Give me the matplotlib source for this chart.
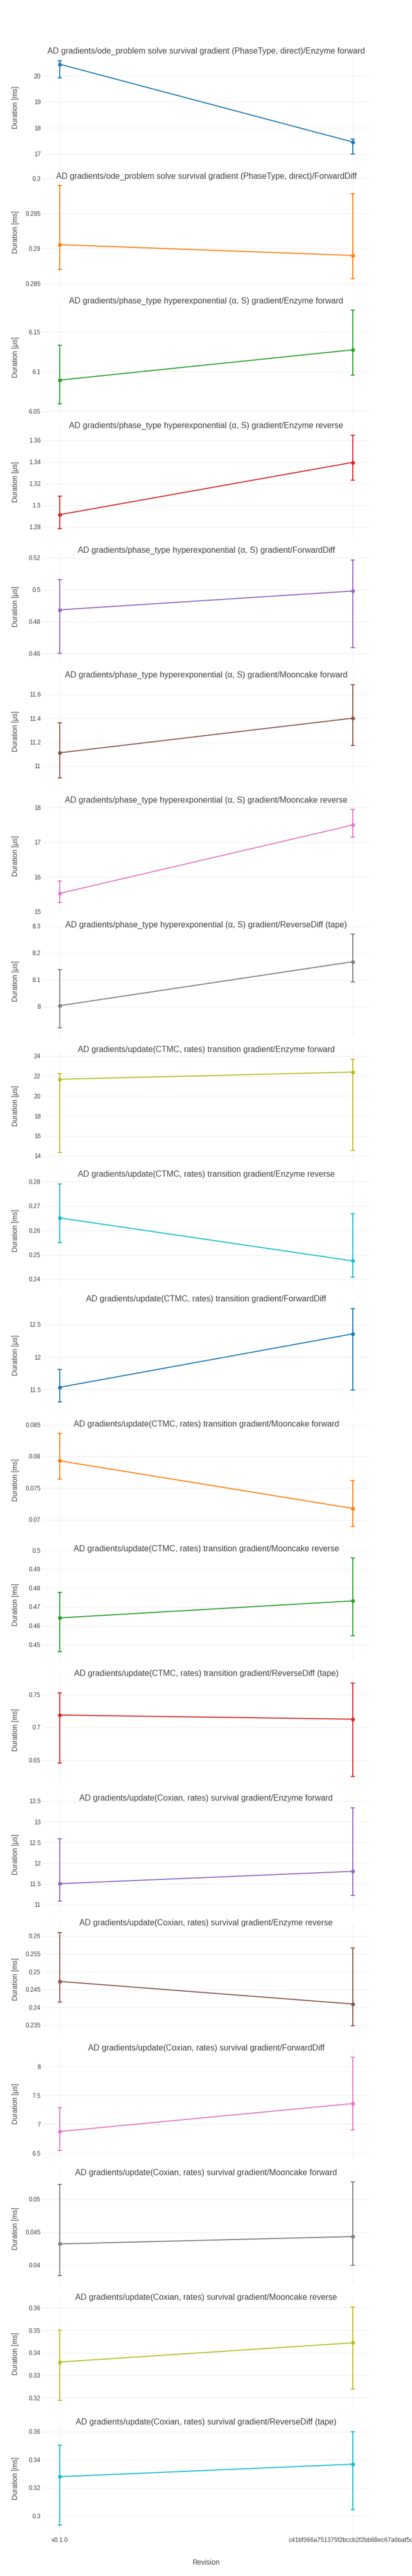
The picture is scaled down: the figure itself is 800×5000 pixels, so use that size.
import matplotlib
matplotlib.use("Agg")
import matplotlib.pyplot as plt

plt.rcParams['font.family'] = ['Liberation Sans', 'DejaVu Sans']

revisions = ["v0.1.0", "c41bf366a751375f2bccb2f2bb68ec67a6baf5c0"]

titles = [
    "AD gradients/ode_problem solve survival gradient (PhaseType, direct)/Enzyme forward",
    "AD gradients/ode_problem solve survival gradient (PhaseType, direct)/ForwardDiff",
    "AD gradients/phase_type hyperexponential (α, S) gradient/Enzyme forward",
    "AD gradients/phase_type hyperexponential (α, S) gradient/Enzyme reverse",
    "AD gradients/phase_type hyperexponential (α, S) gradient/ForwardDiff",
    "AD gradients/phase_type hyperexponential (α, S) gradient/Mooncake forward",
    "AD gradients/phase_type hyperexponential (α, S) gradient/Mooncake reverse",
    "AD gradients/phase_type hyperexponential (α, S) gradient/ReverseDiff (tape)",
    "AD gradients/update(CTMC, rates) transition gradient/Enzyme forward",
    "AD gradients/update(CTMC, rates) transition gradient/Enzyme reverse",
    "AD gradients/update(CTMC, rates) transition gradient/ForwardDiff",
    "AD gradients/update(CTMC, rates) transition gradient/Mooncake forward",
    "AD gradients/update(CTMC, rates) transition gradient/Mooncake reverse",
    "AD gradients/update(CTMC, rates) transition gradient/ReverseDiff (tape)",
    "AD gradients/update(Coxian, rates) survival gradient/Enzyme forward",
    "AD gradients/update(Coxian, rates) survival gradient/Enzyme reverse",
    "AD gradients/update(Coxian, rates) survival gradient/ForwardDiff",
    "AD gradients/update(Coxian, rates) survival gradient/Mooncake forward",
    "AD gradients/update(Coxian, rates) survival gradient/Mooncake reverse",
    "AD gradients/update(Coxian, rates) survival gradient/ReverseDiff (tape)",
]

units = ["ms", "ms", "μs", "μs", "μs", "μs", "μs", "μs", "μs", "ms",
         "μs", "ms", "ms", "ms", "μs", "ms", "μs", "ms", "ms", "ms"]

# [v0.1.0, head] per benchmark
means = [
    [20.447, 17.461], [0.29056, 0.28902], [6.0894, 6.1275], [1.2913, 1.3396],
    [0.48747, 0.49925], [11.111, 11.401], [15.526, 17.495], [8.0038, 8.1676],
    [21.681, 22.401], [0.26512, 0.24751], [11.538, 12.355], [0.07930, 0.07178],
    [0.46417, 0.47319], [0.71880, 0.71253], [11.504, 11.802], [0.24726, 0.24091],
    [6.875, 7.3595], [0.04323, 0.04435], [0.33589, 0.34442], [0.32793, 0.33683],
]
lows = [
    [19.934, 16.993], [0.28700, 0.28568], [6.0596, 6.0955], [1.2785, 1.3234],
    [0.46026, 0.46369], [10.899, 11.171], [15.255, 17.140], [7.9219, 8.0921],
    [14.357, 14.545], [0.25495, 0.24084], [11.313, 11.496], [0.07643, 0.06888],
    [0.44632, 0.45479], [0.64595, 0.62559], [11.083, 11.223], [0.24144, 0.23476],
    [6.5425, 6.908], [0.03844, 0.03995], [0.31890, 0.32400], [0.29354, 0.30451],
]
highs = [
    [20.579, 17.566], [0.29897, 0.29784], [6.1335, 6.1773], [1.3086, 1.3648],
    [0.50653, 0.51874], [11.362, 11.682], [15.877, 17.944], [8.1376, 8.270],
    [22.247, 23.705], [0.27909, 0.26674], [11.815, 12.742], [0.08364, 0.07619],
    [0.47756, 0.49586], [0.75248, 0.76762], [12.595, 13.339], [0.26101, 0.25673],
    [7.288, 8.1617], [0.05227, 0.05263], [0.35006, 0.36042], [0.35049, 0.36000],
]

yticks = [
    [17, 18, 19, 20], [0.285, 0.29, 0.295, 0.3], [6.05, 6.1, 6.15],
    [1.28, 1.3, 1.32, 1.34, 1.36], [0.46, 0.48, 0.5, 0.52], [11, 11.2, 11.4, 11.6],
    [15, 16, 17, 18], [8, 8.1, 8.2, 8.3], [14, 16, 18, 20, 22, 24],
    [0.24, 0.25, 0.26, 0.27, 0.28], [11.5, 12, 12.5], [0.07, 0.075, 0.08, 0.085],
    [0.45, 0.46, 0.47, 0.48, 0.49, 0.5], [0.65, 0.7, 0.75],
    [11, 11.5, 12, 12.5, 13, 13.5], [0.235, 0.24, 0.245, 0.25, 0.255, 0.26],
    [6.5, 7, 7.5, 8], [0.04, 0.045, 0.05], [0.32, 0.33, 0.34, 0.35, 0.36],
    [0.3, 0.32, 0.34, 0.36],
]

colors = ['#1f77b4', '#ff7f0e', '#2ca02c', '#d62728', '#9467bd',
          '#8c564b', '#e377c2', '#7f7f7f', '#bcbd22', '#17becf']

txt = '#444444'
grid = '#eeeeee'

fig, axes = plt.subplots(len(titles), 1, figsize=(8, 50), dpi=100, sharex=True)
fig.subplots_adjust(left=0.102, right=0.899, top=0.9798, bottom=0.0164, hspace=0.1255)

xs = list(range(len(revisions)))
for i, ax in enumerate(axes):
    c = colors[i % len(colors)]
    m = means[i]
    lo = [m[k] - lows[i][k] for k in xs]
    hi = [highs[i][k] - m[k] for k in xs]
    ax.errorbar(xs, m, yerr=[lo, hi], color=c, lw=1.45, marker='o', ms=4.4,
                elinewidth=1.45, capsize=2.9, capthick=1.45, zorder=3)

    span = max(highs[i]) - min(lows[i])
    pad = span * 0.0938
    y0 = min(min(lows[i]) - pad, min(yticks[i]))
    y1 = max(max(highs[i]) + pad, max(yticks[i]))
    ax.set_ylim(y0, y1)
    ax.set_yticks(yticks[i])
    ax.set_yticklabels(['{:g}'.format(t) for t in yticks[i]])
    ax.set_xlim(-0.0605, 1.0605)
    ax.set_xticks(xs)

    for s in ax.spines.values():
        s.set_visible(False)
    ax.grid(True, color=grid, lw=0.8)
    ax.set_axisbelow(True)
    ax.tick_params(length=0, labelsize=8.6, colors=txt, pad=2)
    ax.set_ylabel("Duration [%s]" % units[i], fontsize=10, color=txt)
    ax.yaxis.set_label_coords(-0.0696, 0.5)
    ax.text(0.5, 1.005, titles[i], transform=ax.transAxes, ha='center',
            va='center', fontsize=11.5, color=txt)

axes[-1].set_xticklabels(revisions)
axes[-1].tick_params(axis='x', pad=5)
axes[-1].set_xlabel("Revision", fontsize=10, color=txt, labelpad=22)

fig.savefig("out.png", dpi=100)
